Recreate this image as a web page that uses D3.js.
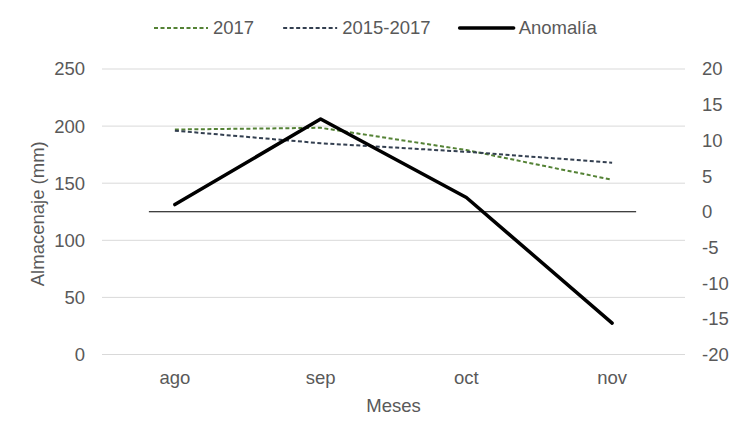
<!DOCTYPE html>
<html>
<head>
<meta charset="utf-8">
<script src="https://cdn.jsdelivr.net/npm/d3@7"></script>
<style>
  body { margin: 0; background: #fff; }
  text { font-family: "Liberation Sans", Arial, sans-serif; }
</style>
</head>
<body>
<svg id="chart"></svg>
<script>
// Data
const months = ["ago", "sep", "oct", "nov"];
const serie2017 = [197, 198.5, 179, 153];
const serie2015_2017 = [196, 185, 177.5, 168];
const anomalia = [1, 13, 2, -15.6];
const leftTicks = [0, 50, 100, 150, 200, 250];
const rightTicks = [-20, -15, -10, -5, 0, 5, 10, 15, 20];

// Set up SVG dimensions
const W = 742, H = 441;
const margin = { top: 69, right: 57, bottom: 86.5, left: 102 };
const width = W - margin.left - margin.right;
const height = H - margin.top - margin.bottom;

const svg = d3.select("#chart")
    .attr("width", W)
    .attr("height", H);

svg.append("rect").attr("width", W).attr("height", H).attr("fill", "#fff");

const g = svg.append("g")
    .attr("transform", "translate(" + margin.left + "," + margin.top + ")");

// Scales
const x = d3.scaleBand().domain(months).range([0, width]);
const xc = d => x(d) + x.bandwidth() / 2;
const yL = d3.scaleLinear().domain([0, 250]).range([height, 0]);
const yR = d3.scaleLinear().domain([-20, 20]).range([height, 0]);

const labelColor = "#595959";
const fontSize = "18.5px";

// Gridlines
g.selectAll("line.grid")
    .data(leftTicks)
    .enter()
    .append("line")
    .attr("class", "grid")
    .attr("x1", 0)
    .attr("x2", width)
    .attr("y1", d => yL(d))
    .attr("y2", d => yL(d))
    .attr("stroke", "#d9d9d9")
    .attr("stroke-width", 1);

// Left axis labels
g.selectAll("text.yl")
    .data(leftTicks)
    .enter()
    .append("text")
    .attr("class", "yl")
    .attr("x", -17)
    .attr("y", d => yL(d))
    .attr("dy", "0.35em")
    .attr("text-anchor", "end")
    .attr("fill", labelColor)
    .style("font-size", fontSize)
    .text(d => d);

// Right axis labels
g.selectAll("text.yr")
    .data(rightTicks)
    .enter()
    .append("text")
    .attr("class", "yr")
    .attr("x", width + 17)
    .attr("y", d => yR(d))
    .attr("dy", "0.35em")
    .attr("text-anchor", "start")
    .attr("fill", labelColor)
    .style("font-size", fontSize)
    .text(d => d);

// Category labels
g.selectAll("text.xl")
    .data(months)
    .enter()
    .append("text")
    .attr("class", "xl")
    .attr("x", d => xc(d))
    .attr("y", height + 23)
    .attr("dy", "0.35em")
    .attr("text-anchor", "middle")
    .attr("fill", labelColor)
    .style("font-size", fontSize)
    .text(d => d);

// Axis titles
g.append("text")
    .attr("x", width / 2)
    .attr("y", height + 51)
    .attr("dy", "0.35em")
    .attr("text-anchor", "middle")
    .attr("fill", labelColor)
    .style("font-size", fontSize)
    .text("Meses");

g.append("text")
    .attr("transform", "translate(" + (-64) + "," + (height / 2 + 2) + ") rotate(-90)")
    .attr("dy", "0.35em")
    .attr("text-anchor", "middle")
    .attr("fill", labelColor)
    .style("font-size", fontSize)
    .text("Almacenaje (mm)");

// Zero line of the secondary axis
g.append("line")
    .attr("x1", xc(months[0]) - 26)
    .attr("x2", xc(months[months.length - 1]) + 24)
    .attr("y1", yR(0))
    .attr("y2", yR(0))
    .attr("stroke", "#000")
    .attr("stroke-width", 1);

// Lines
const lineL = d3.line().x((d, i) => xc(months[i])).y(d => yL(d));
const lineR = d3.line().x((d, i) => xc(months[i])).y(d => yR(d));

const series = [
    { name: "2017", values: serie2017, line: lineL, color: "#548235", width: 2, dash: "4,2.5" },
    { name: "2015-2017", values: serie2015_2017, line: lineL, color: "#333f50", width: 2, dash: "4,2.5" },
    { name: "Anomalía", values: anomalia, line: lineR, color: "#000", width: 3.5, dash: null }
];

series.forEach(s => {
    g.append("path")
        .datum(s.values)
        .attr("d", s.line)
        .attr("fill", "none")
        .attr("stroke", s.color)
        .attr("stroke-width", s.width)
        .attr("stroke-dasharray", s.dash)
        .attr("stroke-linejoin", "round")
        .attr("stroke-linecap", s.dash ? "butt" : "round");
});

// Legend
const legend = svg.append("g").attr("transform", "translate(0,28)");
let lx = 154;
series.forEach(s => {
    legend.append("line")
        .attr("x1", lx)
        .attr("x2", lx + 54)
        .attr("stroke", s.color)
        .attr("stroke-width", s.width)
        .attr("stroke-dasharray", s.dash)
        .attr("stroke-linecap", s.dash ? "butt" : "round");
    const t = legend.append("text")
        .attr("x", lx + 59)
        .attr("dy", "0.35em")
        .attr("fill", labelColor)
        .style("font-size", fontSize)
        .text(s.name);
    lx += 59 + t.node().getComputedTextLength() + 29;
});
</script>
</body>
</html>
